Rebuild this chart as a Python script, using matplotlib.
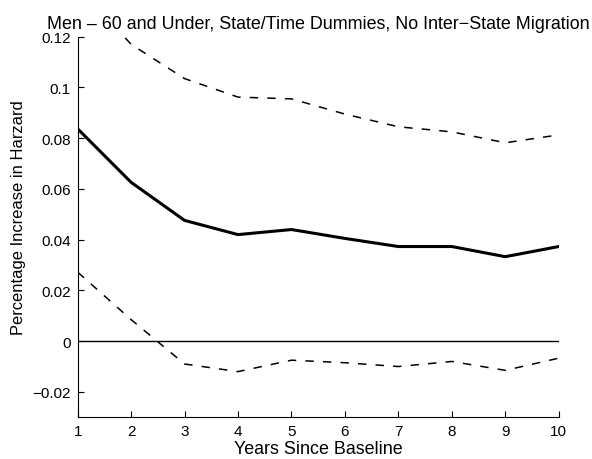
import matplotlib
matplotlib.use("Agg")
import matplotlib.pyplot as plt

years = [1, 2, 3, 4, 5, 6, 7, 8, 9, 10]
estimate = [0.0837, 0.0626, 0.0476, 0.0420, 0.0440, 0.0405, 0.0373, 0.0373, 0.0333, 0.0373]
upper = [0.140, 0.117, 0.1035, 0.0962, 0.0955, 0.0895, 0.0845, 0.0825, 0.0782, 0.0813]
lower = [0.0272, 0.0085, -0.0090, -0.0120, -0.0075, -0.0085, -0.0100, -0.0080, -0.0115, -0.0067]
yticks = [-0.02, 0, 0.02, 0.04, 0.06, 0.08, 0.1, 0.12]
ytick_labels = ["\u22120.02", "0", "0.02", "0.04", "0.06", "0.08", "0.1", "0.12"]

plt.rcParams['font.family'] = ['Liberation Sans', 'DejaVu Sans']

fig = plt.figure(figsize=(5.92, 4.60), dpi=100)
ax = fig.add_axes([0.1312, 0.0907, 0.8126, 0.8273])

ax.plot(years, estimate, color='black', lw=2.2, solid_joinstyle='miter')
ax.plot(years, upper, color='black', lw=1.1, linestyle=(0, (5.5, 6)))
ax.plot(years, lower, color='black', lw=1.1, linestyle=(0, (5.5, 6)))
ax.axhline(0, color='black', lw=1.0)

ax.set_xlim(1, 10)
ax.set_ylim(-0.03, 0.12)
ax.set_xticks(years)
ax.set_xticklabels([str(y) for y in years])
ax.set_yticks(yticks)
ax.set_yticklabels(ytick_labels)

for s in ['top', 'right']:
    ax.spines[s].set_visible(False)
for s in ['left', 'bottom']:
    ax.spines[s].set_linewidth(0.8)
ax.tick_params(direction='in', length=4, width=0.8, labelsize=11, pad=5)

ax.set_title("Men \u2013 60 and Under, State/Time Dummies, No Inter\u2212State Migration",
             fontsize=12.9, pad=6)
ax.set_xlabel("Years Since Baseline", fontsize=12.9, labelpad=1)
ax.set_ylabel("Percentage Increase in Harzard", fontsize=11.9)
ax.yaxis.set_label_coords(-0.107, 0.526)

fig.savefig("out.png", dpi=100)
